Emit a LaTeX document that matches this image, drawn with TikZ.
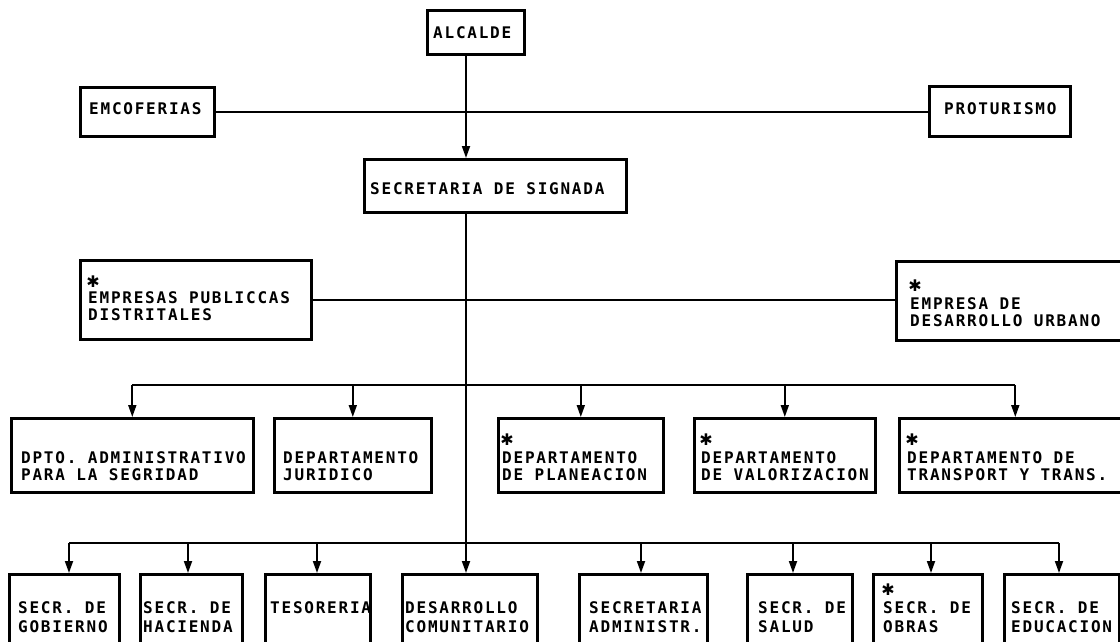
\documentclass[tikz,border=0pt]{standalone}
\usepackage{fontspec}
\usetikzlibrary{arrows.meta}
\newfontfamily\orgfam[LetterSpace=11.1]{DejaVu Sans Mono}
\newfontfamily\starfam{DejaVu Sans}
\newcommand\orgfont{\orgfam\bfseries\fontsize{16}{17}\selectfont}
\newcommand\orgbox[5]{\node[box,minimum width={#4pt-#2pt},minimum height={#5pt-#3pt}] (#1) at (#2,#3) {};}
\tikzset{
  box/.style={draw=black, line width=2.6pt, inner sep=0pt, anchor=north west},
  lbl/.style={anchor=base west, inner sep=0pt, font=\orgfont},
  star/.style={anchor=center, inner sep=0pt, font=\starfam\bfseries\fontsize{16}{16}\selectfont},
  conn/.style={draw=black, line width=1.8pt},
  thin/.style={draw=black, line width=1.5pt},
  arr/.style={conn, -{Triangle[length=12pt,width=8pt]}}
}
\begin{document}
\begin{tikzpicture}[x=1pt,y=-1pt]
\useasboundingbox (0,0) rectangle (1120,642);
\fill[white] (0,0) rectangle (1120,642);
\clip (0,0) rectangle (1120,642);
% boxes
\orgbox{alc}{426}{9}{523}{53}
\orgbox{emc}{79}{86}{213}{135}
\orgbox{pro}{928}{85}{1069}{135}
\orgbox{sec}{363}{158}{625}{211}
\orgbox{epd}{79}{259}{310}{338}
\orgbox{edu}{895}{260}{1130}{339}
\orgbox{r1a}{10}{417}{252}{491}
\orgbox{r1b}{273}{417}{430}{491}
\orgbox{r1c}{497}{417}{662}{491}
\orgbox{r1d}{693}{417}{874}{491}
\orgbox{r1e}{898}{417}{1130}{491}
\orgbox{r2a}{8}{573}{118}{660}
\orgbox{r2b}{139}{573}{241}{660}
\orgbox{r2c}{264}{573}{369}{660}
\orgbox{r2d}{401}{573}{536}{660}
\orgbox{r2e}{578}{573}{706}{660}
\orgbox{r2f}{746}{573}{851}{660}
\orgbox{r2g}{872}{573}{981}{660}
\orgbox{r2h}{1003}{573}{1118}{660}
% texts
\node[lbl] (t-alc) at (433,39) {ALCALDE};
\node[lbl] (t-emc) at (89,114) {EMCOFERIAS};
\node[lbl] (t-pro) at (944,114) {PROTURISMO};
\node[lbl] (t-sec) at (370,194) {SECRETARIA DE SIGNADA};
\node[star] (t-epd0) at (93,282) {✱};
\node[lbl] (t-epd1) at (88,303) {EMPRESAS PUBLICCAS};
\node[lbl] (t-epd2) at (88,320) {DISTRITALES};
\node[star] (t-edu0) at (915,286) {✱};
\node[lbl] (t-edu1) at (910,309) {EMPRESA DE};
\node[lbl] (t-edu2) at (910,326) {DESARROLLO URBANO};
\node[lbl] (t-r1a1) at (21,463) {DPTO. ADMINISTRATIVO};
\node[lbl] (t-r1a2) at (21,480) {PARA LA SEGRIDAD};
\node[lbl] (t-r1b1) at (283,463) {DEPARTAMENTO};
\node[lbl] (t-r1b2) at (283,480) {JURIDICO};
\node[star] (t-r1c0) at (507,440) {✱};
\node[lbl] (t-r1c1) at (502,463) {DEPARTAMENTO};
\node[lbl] (t-r1c2) at (502,480) {DE PLANEACION};
\node[star] (t-r1d0) at (706,440) {✱};
\node[lbl] (t-r1d1) at (701,463) {DEPARTAMENTO};
\node[lbl] (t-r1d2) at (701,480) {DE VALORIZACION};
\node[star] (t-r1e0) at (912,440) {✱};
\node[lbl] (t-r1e1) at (907,463) {DEPARTAMENTO DE};
\node[lbl] (t-r1e2) at (907,480) {TRANSPORT Y TRANS.};
\node[lbl] (t-r2a1) at (18,613) {SECR. DE};
\node[lbl] (t-r2a2) at (18,632) {GOBIERNO};
\node[lbl] (t-r2b1) at (143,613) {SECR. DE};
\node[lbl] (t-r2b2) at (143,632) {HACIENDA};
\node[lbl] (t-r2c1) at (270,613) {TESORERIA};
\node[lbl] (t-r2d1) at (405,613) {DESARROLLO};
\node[lbl] (t-r2d2) at (405,632) {COMUNITARIO};
\node[lbl] (t-r2e1) at (589,613) {SECRETARIA};
\node[lbl] (t-r2e2) at (589,632) {ADMINISTR.};
\node[lbl] (t-r2f1) at (758,613) {SECR. DE};
\node[lbl] (t-r2f2) at (758,632) {SALUD};
\node[star] (t-r2g0) at (888,590) {✱};
\node[lbl] (t-r2g1) at (883,613) {SECR. DE};
\node[lbl] (t-r2g2) at (883,632) {OBRAS};
\node[lbl] (t-r2h1) at (1011,613) {SECR. DE};
\node[lbl] (t-r2h2) at (1011,632) {EDUCACION};
% connectors
\coordinate (mx) at (466,0);
\coordinate (bus1) at (0,385);
\coordinate (bus2) at (0,543);
\draw[thin] (emc.east) -- (emc.east -| pro.west);
\draw[thin] (epd.east) -- (epd.east -| edu.west);
\draw[arr] (alc.south -| mx) -- (sec.north -| mx);
\draw[arr] (sec.south -| mx) -- (r2d.north -| mx);
\draw[conn] (r1a.north |- bus1) -- (r1e.north |- bus1);
\foreach \n in {r1a,r1b,r1c,r1d,r1e}
  \draw[arr] (\n.north |- bus1) -- (\n.north);
\draw[conn] (69,543) -- (1059,543);
\foreach \n/\xx in {r2a/69,r2b/188,r2c/317,r2e/641,r2f/793,r2g/931,r2h/1059}
  \draw[arr] (\xx,543) -- (\xx,543 |- \n.north);
\end{tikzpicture}
\end{document}
